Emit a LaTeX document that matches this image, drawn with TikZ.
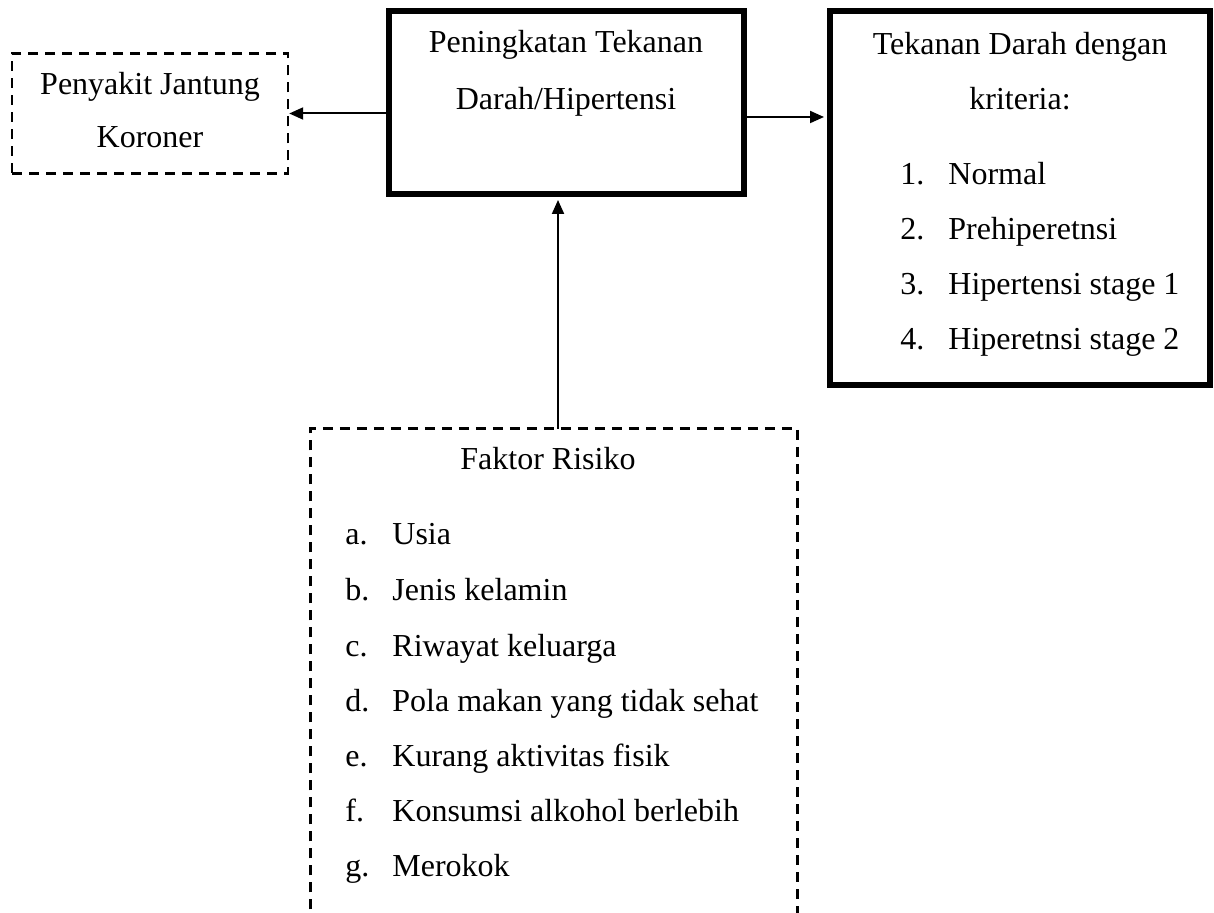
\documentclass[tikz,border=0pt]{standalone}
\usepackage{fontspec}
\setmainfont{Liberation Serif}
\usetikzlibrary{arrows.meta}
\begin{document}
\begin{tikzpicture}[x=0.5pt,y=-0.5pt,
  txt/.style={anchor=base,inner sep=0pt,font=\fontsize{16pt}{19pt}\selectfont},
  lft/.style={txt,anchor=base west},
  thickbox/.style={draw,line width=3pt,inner sep=0pt},
  dashbox/.style={line width=1.2pt,dash pattern=on 5pt off 3.5pt},
  arr/.style={line width=1pt,-{Triangle[length=7pt,width=6pt]}}
]
\useasboundingbox (0,0) rectangle (1214,913);
% boxes
\node[draw,dashbox,minimum width=138pt,minimum height=60pt,inner sep=0pt] (pjk) at (150,113.5) {};
\node[thickbox,minimum width=177.5pt,minimum height=91.5pt] (mid) at (566.5,102.5) {};
\node[thickbox,minimum width=190pt,minimum height=187pt] (crit) at (1020,198) {};
\node[minimum width=243pt,minimum height=265.5pt,inner sep=0pt] (risk) at (554,694.5) {};
\draw[dashbox] (risk.south west) -- (risk.north west) -- (risk.north east) -- (risk.south east);
% connectors
\coordinate (ry) at (0,117);
\coordinate (vx) at (558,0);
\draw[arr] (mid.west |- pjk.east) -- (pjk.east);
\draw[arr,shorten >=1.5pt] (mid.east |- ry) -- (crit.west |- ry);
\draw[arr,shorten >=1.5pt] (risk.north -| vx) -- (mid.south -| vx);
% texts
\node[txt] (t1) at (150,95) {Penyakit Jantung};
\node[txt] (t2) at (150,148) {Koroner};
\node[txt] (m1) at (566,53) {Peningkatan Tekanan};
\node[txt] (m2) at (566,110) {Darah/Hipertensi};
\node[txt] (c1) at (1020,55) {Tekanan Darah dengan};
\node[txt] (c2) at (1020,110) {kriteria:};
\node[lft] (n1) at (900,185) {1.};
\node[lft] (i1) at (948,185) {Normal};
\node[lft] (n2) at (900,240) {2.};
\node[lft] (i2) at (948,240) {Prehiperetnsi};
\node[lft] (n3) at (900,295) {3.};
\node[lft] (i3) at (948,295) {Hipertensi stage 1};
\node[lft] (n4) at (900,350) {4.};
\node[lft] (i4) at (948,350) {Hiperetnsi stage 2};
\node[txt] (f0) at (548,470) {Faktor Risiko};
\node[lft] (la) at (345,545) {a.};
\node[lft] (fa) at (392,545) {Usia};
\node[lft] (lb) at (345,601) {b.};
\node[lft] (fb) at (392,601) {Jenis kelamin};
\node[lft] (lc) at (345,656) {c.};
\node[lft] (fc) at (392,656) {Riwayat keluarga};
\node[lft] (ld) at (345,711) {d.};
\node[lft] (fd) at (392,711) {Pola makan yang tidak sehat};
\node[lft] (le) at (345,766) {e.};
\node[lft] (fe) at (392,766) {Kurang aktivitas fisik};
\node[lft] (lf) at (345,821) {f.};
\node[lft] (ff) at (392,821) {Konsumsi alkohol berlebih};
\node[lft] (lg) at (345,876) {g.};
\node[lft] (fg) at (392,876) {Merokok};
\end{tikzpicture}
\end{document}
